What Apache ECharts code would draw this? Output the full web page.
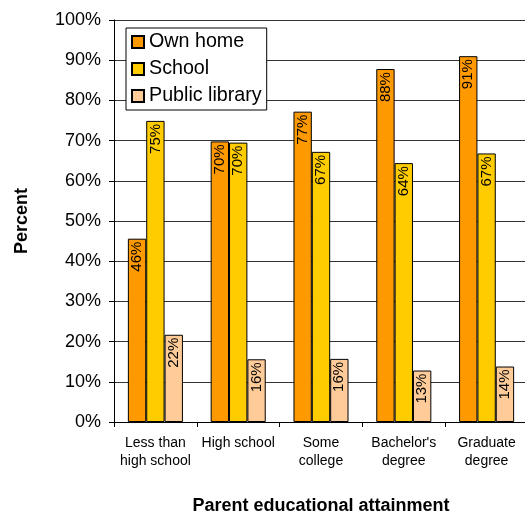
<!DOCTYPE html>
<html>
<head>
<meta charset="utf-8">
<script src="https://cdn.jsdelivr.net/npm/echarts@6/dist/echarts.min.js"></script>
<style>html,body{margin:0;padding:0;background:#fff}#c{width:525px;height:515px}</style>
</head>
<body>
<div id="c"></div>
<script>
var categories = ['Less than\nhigh school', 'High school', 'Some\ncollege', "Bachelor's\ndegree", 'Graduate\ndegree'];
var ownHome = [45.6, 69.8, 77.2, 87.8, 91.0];
var school = [74.9, 69.5, 67.2, 64.4, 66.8];
var publicLibrary = [21.7, 15.6, 15.7, 12.8, 13.8];
var yTicks = [0, 10, 20, 30, 40, 50, 60, 70, 80, 90, 100];

var FONT = "'Liberation Sans', Arial, sans-serif";
function mkSeries(name, data, color) {
  return {
    name: name, type: 'bar', data: data,
    barGap: '0%', barCategoryGap: '33.5%',
    itemStyle: { color: color, borderColor: '#000', borderWidth: 1 },
    label: {
      show: true, position: 'insideTop', rotate: 90, align: 'right', verticalAlign: 'middle',
      distance: 3, fontFamily: FONT, fontSize: 15, color: '#000',
      formatter: function (p) { return Math.round(p.value) + '%'; }
    },
    emphasis: { disabled: true }
  };
}
var chart = echarts.init(document.getElementById('c'), null, { renderer: 'canvas' });
chart.setOption({
  animation: false,
  backgroundColor: '#fff',
  grid: { left: 114, top: 20, bottom: 93, right: -3, containLabel: false, outerBoundsMode: 'none' },
  legend: {
    orient: 'vertical', left: 126, top: 28,
    padding: [4, 5, 4, 5], itemGap: 7, itemWidth: 12, itemHeight: 12,
    icon: 'rect',
    backgroundColor: '#fff', borderColor: '#000', borderWidth: 1,
    textStyle: { fontFamily: FONT, fontSize: 19.7, color: '#000', padding: [0, 0, 0, 0] },
    data: ['Own home', 'School', 'Public library']
  },
  xAxis: {
    type: 'category', data: categories,
    name: 'Parent educational attainment', nameLocation: 'middle', nameGap: 75,
    nameTextStyle: { fontFamily: FONT, fontSize: 18, fontWeight: 'bold', color: '#000' },
    axisLine: { lineStyle: { color: '#000', width: 1 } },
    axisTick: { show: true, length: 5, lineStyle: { color: '#000' }, alignWithLabel: false },
    axisLabel: { fontFamily: FONT, fontSize: 14, color: '#000', margin: 12, lineHeight: 18, interval: 0 }
  },
  yAxis: {
    type: 'value', min: 0, max: 100, interval: 10,
    name: 'Percent', nameLocation: 'middle', nameGap: 83,
    nameTextStyle: { fontFamily: FONT, fontSize: 18, fontWeight: 'bold', color: '#000' },
    axisLine: { show: true, lineStyle: { color: '#000', width: 1 } },
    axisTick: { show: true, length: 5, lineStyle: { color: '#000' } },
    axisLabel: { fontFamily: FONT, fontSize: 18, color: '#000', margin: 13,
      formatter: function (v) { return yTicks.indexOf(v) >= 0 ? v + '%' : ''; } },
    splitLine: { show: true, lineStyle: { color: '#333', width: 1 } }
  },
  series: [
    mkSeries('Own home', ownHome, '#FF9900'),
    mkSeries('School', school, '#FFCC00'),
    mkSeries('Public library', publicLibrary, '#FFCC99')
  ]
});
</script>
</body>
</html>
